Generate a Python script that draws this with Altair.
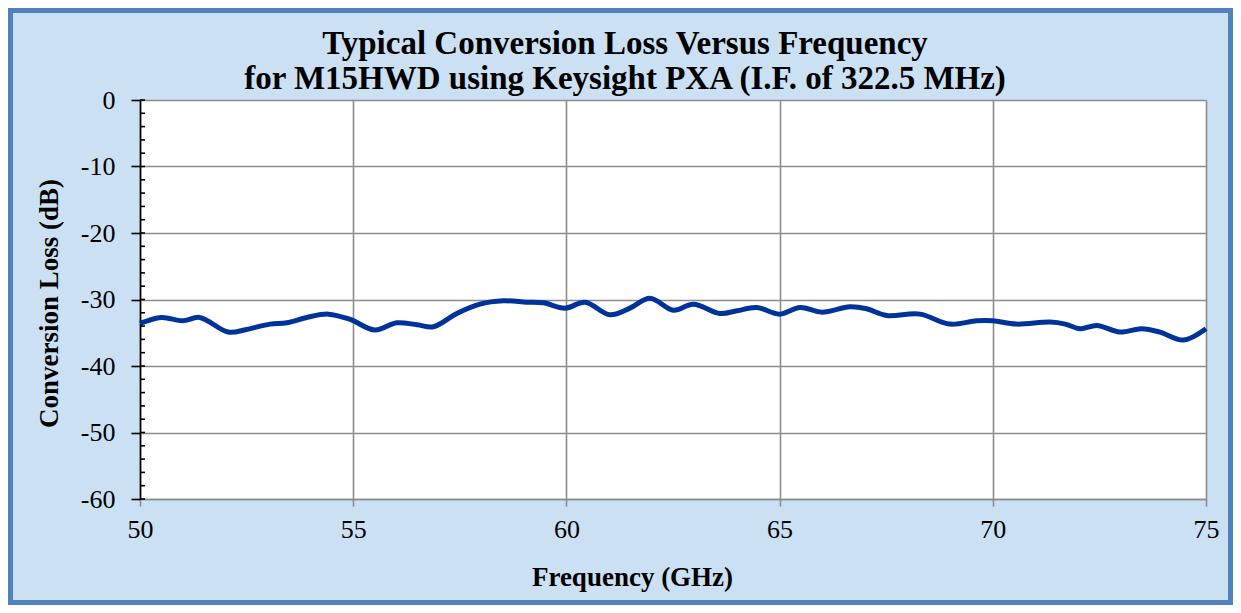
import altair as alt
import pandas as pd

freq = [50.0, 50.5, 51.0, 51.4, 52.07, 52.5, 53.05, 53.44, 53.91, 54.42, 54.93,
        55.51, 56.02, 56.5, 56.88, 57.43, 57.97, 58.52, 59.07, 59.46, 59.97,
        60.44, 61.02, 61.49, 61.96, 62.51, 62.98, 63.6, 64.0, 64.46, 65.0,
        65.48, 65.99, 66.65, 67.04, 67.51, 68.29, 68.99, 69.62, 70.0, 70.55,
        71.34, 71.7, 72.05, 72.44, 72.98, 73.49, 73.92, 74.47, 75.0]
loss = [-33.6, -32.7, -33.2, -32.7, -34.9, -34.5, -33.7, -33.5, -32.7, -32.2, -33.0,
        -34.6, -33.5, -33.8, -34.1, -32.1, -30.7, -30.2, -30.4, -30.5, -31.3,
        -30.4, -32.3, -31.3, -29.8, -31.6, -30.7, -32.1, -31.7, -31.2, -32.2,
        -31.2, -31.9, -31.1, -31.4, -32.4, -32.2, -33.7, -33.2, -33.2, -33.7,
        -33.4, -33.7, -34.4, -33.9, -34.9, -34.4, -34.9, -36.1, -34.4]
minor_ticks = list(range(-60, 1, 2))
x_ticks = [50, 55, 60, 65, 70, 75]
y_ticks = [0, -10, -20, -30, -40, -50, -60]
title_line1 = "Typical Conversion Loss Versus Frequency"
title_line2 = "for M15HWD using Keysight PXA (I.F. of 322.5 MHz)"

W, H = 1066, 399
PL, PT, PR, PB = 132, 92, 27, 106

df = pd.DataFrame({"freq": freq, "loss": loss})
df_minor = pd.DataFrame({"v": minor_ticks})

FONT = "Liberation Serif"

xs = alt.Scale(domain=[50, 75], nice=False, zero=False)
ys = alt.Scale(domain=[-60, 0], nice=False, zero=False)

one = pd.DataFrame({"a": [0]})

border = alt.Chart(one).mark_rect(
    fill=None, stroke="#4F81BD", strokeWidth=5
).encode(
    x=alt.value(-PL + 2.5), x2=alt.value(W + PR - 2.5),
    y=alt.value(-PT + 2.5), y2=alt.value(H + PB - 2.5)
)

t1 = alt.Chart(one).mark_text(
    text=title_line1, font=FONT, fontSize=33, fontWeight="bold", color="black",
    align="center", baseline="alphabetic"
).encode(x=alt.value(W / 2 - 48), y=alt.value(-46.5))

t2 = alt.Chart(one).mark_text(
    text=title_line2, font=FONT, fontSize=33, fontWeight="bold", color="black",
    align="center", baseline="alphabetic"
).encode(x=alt.value(W / 2 - 48), y=alt.value(-11.5))

line = alt.Chart(df).mark_line(
    color="#003399", strokeWidth=5, interpolate="catmull-rom"
).encode(
    x=alt.X("freq:Q", scale=xs, axis=alt.Axis(
        values=x_ticks, title="Frequency (GHz)", grid=True,
        gridColor="#8c8c8c", gridWidth=1.6,
        domainColor="#8c8c8c", domainWidth=1.6,
        tickColor="#8c8c8c", tickSize=7, tickWidth=1.6,
        labelFont=FONT, labelFontSize=26, labelColor="black", labelPadding=10,
        labelFlush=False, labelExpr="'' + datum.value",
        titleFont=FONT, titleFontSize=27, titleFontWeight="bold", titleColor="black",
        titleX=492, titleY=86, titleBaseline="alphabetic", titleAlign="center")),
    y=alt.Y("loss:Q", scale=ys, axis=alt.Axis(
        values=y_ticks, title="Conversion Loss (dB)", grid=True,
        gridColor="#8c8c8c", gridWidth=1.6,
        domainColor="black", domainWidth=1.6,
        tickColor="black", tickSize=9, tickWidth=1.6,
        labelFont=FONT, labelFontSize=26, labelColor="black", labelPadding=16,
        labelFlush=False, labelExpr="'' + datum.value",
        titleFont=FONT, titleFontSize=27, titleFontWeight="bold", titleColor="black",
        titleX=-83, titleY=203, titleBaseline="alphabetic", titleAlign="center",
        titleAngle=270)),
)

minor = alt.Chart(df_minor).mark_rule(color="black", strokeWidth=1.6).encode(
    y=alt.Y("v:Q", scale=ys),
    x=alt.value(0), x2=alt.value(5)
)

chart = alt.layer(border, line, minor, t1, t2).properties(
    width=W, height=H,
    autosize=alt.AutoSizeParams(type="none"),
    padding={"left": PL, "top": PT, "right": PR, "bottom": PB},
    background="#CCE0F4",
).configure_view(fill="white", stroke=None)

chart.save("out.html", embed_options={"renderer": "svg", "actions": False})
